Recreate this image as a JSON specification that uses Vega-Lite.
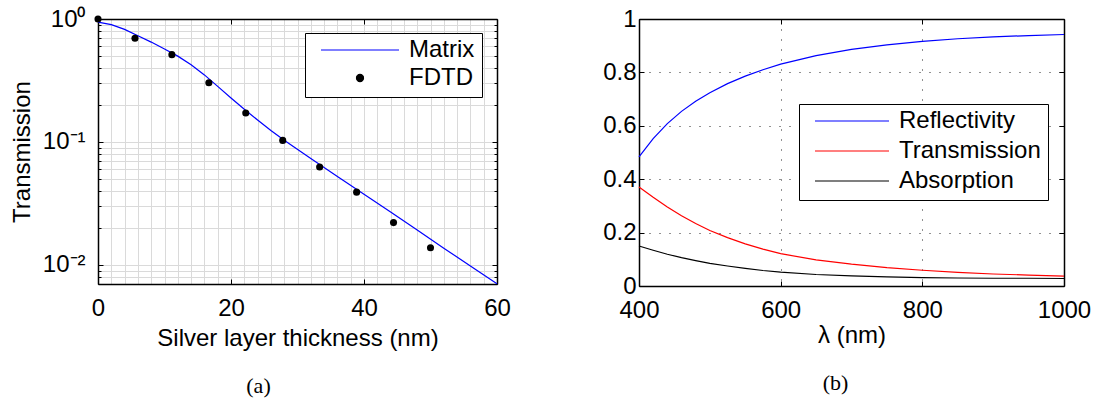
{
  "$schema": "https://vega.github.io/schema/vega-lite/v6.json",
  "padding": {"left": 10, "top": 7, "right": 2, "bottom": 2},
  "background": "white",
  "spacing": 142,
  "bounds": "flush",
  "resolve": {"scale": {"color": "independent"}, "legend": {"color": "independent"}},
  "datasets": {
    "matrix": [
      {"d": 0, "T": 0.942, "series": "Matrix"},
      {"d": 2, "T": 0.899, "series": "Matrix"},
      {"d": 4, "T": 0.824, "series": "Matrix"},
      {"d": 6, "T": 0.731, "series": "Matrix"},
      {"d": 8, "T": 0.649, "series": "Matrix"},
      {"d": 10, "T": 0.571, "series": "Matrix"},
      {"d": 12, "T": 0.499, "series": "Matrix"},
      {"d": 14, "T": 0.425, "series": "Matrix"},
      {"d": 16, "T": 0.351, "series": "Matrix"},
      {"d": 18, "T": 0.283, "series": "Matrix"},
      {"d": 20, "T": 0.228, "series": "Matrix"},
      {"d": 22, "T": 0.1845, "series": "Matrix"},
      {"d": 24, "T": 0.1507, "series": "Matrix"},
      {"d": 26, "T": 0.1242, "series": "Matrix"},
      {"d": 28, "T": 0.1033, "series": "Matrix"},
      {"d": 32, "T": 0.0735, "series": "Matrix"},
      {"d": 36, "T": 0.0525, "series": "Matrix"},
      {"d": 40, "T": 0.0376, "series": "Matrix"},
      {"d": 44, "T": 0.0269, "series": "Matrix"},
      {"d": 48, "T": 0.0192, "series": "Matrix"},
      {"d": 52, "T": 0.0137, "series": "Matrix"},
      {"d": 56, "T": 0.0098, "series": "Matrix"},
      {"d": 60, "T": 0.00702, "series": "Matrix"}
    ],
    "fdtd": [
      {"d": 0, "T": 1.0, "series": "FDTD"},
      {"d": 5.56, "T": 0.697, "series": "FDTD"},
      {"d": 11.11, "T": 0.513, "series": "FDTD"},
      {"d": 16.67, "T": 0.303, "series": "FDTD"},
      {"d": 22.22, "T": 0.172, "series": "FDTD"},
      {"d": 27.78, "T": 0.103, "series": "FDTD"},
      {"d": 33.33, "T": 0.0625, "series": "FDTD"},
      {"d": 38.89, "T": 0.0391, "series": "FDTD"},
      {"d": 44.44, "T": 0.0221, "series": "FDTD"},
      {"d": 50, "T": 0.0138, "series": "FDTD"}
    ],
    "spectra": [
      {"lam": 400, "v": 0.484, "series": "Reflectivity"},
      {"lam": 420, "v": 0.552, "series": "Reflectivity"},
      {"lam": 440, "v": 0.608, "series": "Reflectivity"},
      {"lam": 460, "v": 0.654, "series": "Reflectivity"},
      {"lam": 480, "v": 0.692, "series": "Reflectivity"},
      {"lam": 500, "v": 0.724, "series": "Reflectivity"},
      {"lam": 525, "v": 0.758, "series": "Reflectivity"},
      {"lam": 550, "v": 0.786, "series": "Reflectivity"},
      {"lam": 575, "v": 0.810, "series": "Reflectivity"},
      {"lam": 600, "v": 0.831, "series": "Reflectivity"},
      {"lam": 650, "v": 0.863, "series": "Reflectivity"},
      {"lam": 700, "v": 0.886, "series": "Reflectivity"},
      {"lam": 750, "v": 0.903, "series": "Reflectivity"},
      {"lam": 800, "v": 0.916, "series": "Reflectivity"},
      {"lam": 850, "v": 0.926, "series": "Reflectivity"},
      {"lam": 900, "v": 0.933, "series": "Reflectivity"},
      {"lam": 950, "v": 0.938, "series": "Reflectivity"},
      {"lam": 1000, "v": 0.942, "series": "Reflectivity"},
      {"lam": 400, "v": 0.371, "series": "Transmission"},
      {"lam": 420, "v": 0.332, "series": "Transmission"},
      {"lam": 440, "v": 0.296, "series": "Transmission"},
      {"lam": 460, "v": 0.263, "series": "Transmission"},
      {"lam": 480, "v": 0.234, "series": "Transmission"},
      {"lam": 500, "v": 0.208, "series": "Transmission"},
      {"lam": 525, "v": 0.181, "series": "Transmission"},
      {"lam": 550, "v": 0.158, "series": "Transmission"},
      {"lam": 575, "v": 0.138, "series": "Transmission"},
      {"lam": 600, "v": 0.121, "series": "Transmission"},
      {"lam": 650, "v": 0.098, "series": "Transmission"},
      {"lam": 700, "v": 0.082, "series": "Transmission"},
      {"lam": 750, "v": 0.069, "series": "Transmission"},
      {"lam": 800, "v": 0.059, "series": "Transmission"},
      {"lam": 850, "v": 0.051, "series": "Transmission"},
      {"lam": 900, "v": 0.045, "series": "Transmission"},
      {"lam": 950, "v": 0.041, "series": "Transmission"},
      {"lam": 1000, "v": 0.037, "series": "Transmission"},
      {"lam": 400, "v": 0.150, "series": "Absorption"},
      {"lam": 420, "v": 0.134, "series": "Absorption"},
      {"lam": 440, "v": 0.119, "series": "Absorption"},
      {"lam": 460, "v": 0.106, "series": "Absorption"},
      {"lam": 480, "v": 0.095, "series": "Absorption"},
      {"lam": 500, "v": 0.085, "series": "Absorption"},
      {"lam": 525, "v": 0.075, "series": "Absorption"},
      {"lam": 550, "v": 0.066, "series": "Absorption"},
      {"lam": 575, "v": 0.058, "series": "Absorption"},
      {"lam": 600, "v": 0.052, "series": "Absorption"},
      {"lam": 650, "v": 0.043, "series": "Absorption"},
      {"lam": 700, "v": 0.038, "series": "Absorption"},
      {"lam": 750, "v": 0.034, "series": "Absorption"},
      {"lam": 800, "v": 0.031, "series": "Absorption"},
      {"lam": 850, "v": 0.030, "series": "Absorption"},
      {"lam": 900, "v": 0.029, "series": "Absorption"},
      {"lam": 950, "v": 0.029, "series": "Absorption"},
      {"lam": 1000, "v": 0.028, "series": "Absorption"}
    ]
  },
  "hconcat": [
    {
      "width": 399,
      "height": 265,
      "title": {"text": "(a)", "orient": "bottom", "anchor": "middle", "offset": 26, "dx": -39},
      "layer": [
        {
          "data": {"name": "matrix"},
          "mark": {"type": "line", "strokeWidth": 1.2},
          "encoding": {
            "x": {"field": "d", "type": "quantitative",
              "scale": {"domain": [0, 60], "nice": false, "zero": false},
              "axis": {
                "orient": "bottom",
                "values": [0,2,4,6,8,10,12,14,16,18,20,22,24,26,28,30,32,34,36,38,40,42,44,46,48,50,52,54,56,58,60],
                "labelExpr": "datum.value % 20 === 0 ? datum.label : ''",
                "grid": true, "gridColor": "#dadada", "gridWidth": 1,
                "tickSize": {"condition": {"test": "datum.value % 20 === 0", "value": -5}, "value": 0},
                "labelPadding": 17,
                "title": "Silver layer thickness (nm)", "titlePadding": 1
              }
            },
            "y": {"field": "T", "type": "quantitative",
              "scale": {"type": "log", "domain": [0.007, 1], "nice": false},
              "axis": {
                "orient": "left",
                "values": [0.007,0.008,0.009,0.01,0.02,0.03,0.04,0.05,0.06,0.07,0.08,0.09,0.1,0.2,0.3,0.4,0.5,0.6,0.7,0.8,0.9,1],
                "labelExpr": "datum.value === 1 ? '10⁰' : datum.value === 0.1 ? '10⁻¹' : datum.value === 0.01 ? '10⁻²' : ''",
                "grid": true, "gridColor": "#dadada", "gridWidth": 1,
                "tickSize": {"condition": {"test": "datum.value === 1 || datum.value === 0.1 || datum.value === 0.01", "value": -5}, "value": -3},
                "labelPadding": 18,
                "title": "Transmission", "titlePadding": 8
              }
            },
            "color": {"field": "series", "type": "nominal",
              "scale": {"domain": ["Matrix", "FDTD"], "range": ["#0000ff", "#000000"]},
              "legend": {
                "orient": "none", "legendX": 207, "legendY": 14, "title": null,
                "symbolType": "stroke", "symbolSize": 6084, "rowPadding": 4,
                "encode": {
                  "symbols": {"update": {
                    "shape": {"signal": "datum.value === 'FDTD' ? 'circle' : 'stroke'"},
                    "size": {"signal": "datum.value === 'FDTD' ? 50 : 6084"},
                    "fill": {"signal": "datum.value === 'FDTD' ? 'black' : 'transparent'"},
                    "stroke": {"signal": "datum.value === 'FDTD' ? 'black' : '#0000ff'"},
                    "strokeWidth": {"value": 1.2},
                    "opacity": {"value": 1}
                  }}
                }
              }
            }
          }
        },
        {
          "data": {"name": "fdtd"},
          "mark": {"type": "circle", "size": 50, "opacity": 1},
          "encoding": {
            "x": {"field": "d", "type": "quantitative", "scale": {"domain": [0, 60], "nice": false, "zero": false}, "axis": null},
            "y": {"field": "T", "type": "quantitative", "scale": {"type": "log", "domain": [0.007, 1], "nice": false}, "axis": null},
            "color": {"field": "series", "type": "nominal"}
          }
        },
        {
          "data": {"name": "fdtd"},
          "mark": {"type": "point", "opacity": 0},
          "encoding": {
            "x": {"field": "d", "type": "quantitative", "scale": {"domain": [0, 60], "nice": false, "zero": false},
              "axis": {"orient": "top", "values": [0, 20, 40, 60], "labels": false, "grid": false, "title": null, "tickSize": -5}},
            "y": {"field": "T", "type": "quantitative", "scale": {"type": "log", "domain": [0.007, 1], "nice": false},
              "axis": {"orient": "right",
                "values": [0.007,0.008,0.009,0.01,0.02,0.03,0.04,0.05,0.06,0.07,0.08,0.09,0.1,0.2,0.3,0.4,0.5,0.6,0.7,0.8,0.9,1],
                "labels": false, "grid": false, "title": null,
                "tickSize": {"condition": {"test": "datum.value === 1 || datum.value === 0.1 || datum.value === 0.01", "value": -5}, "value": -3}}}
          }
        }
      ],
      "resolve": {"axis": {"x": "independent", "y": "independent"}}
    },
    {
      "width": 425,
      "height": 267,
      "title": {"text": "(b)", "orient": "bottom", "anchor": "middle", "offset": 26, "dx": -16},
      "layer": [
        {
          "data": {"name": "spectra"},
          "mark": {"type": "line", "strokeWidth": 1.2},
          "encoding": {
            "x": {"field": "lam", "type": "quantitative",
              "scale": {"domain": [400, 1000], "nice": false, "zero": false},
              "axis": {
                "orient": "bottom", "values": [400, 600, 800, 1000],
                "labelExpr": "'' + datum.value",
                "grid": true, "gridColor": "#222222", "gridDash": [1, 9], "gridWidth": 1,
                "tickSize": -5, "labelPadding": 17,
                "title": "λ (nm)", "titlePadding": 1
              }
            },
            "y": {"field": "v", "type": "quantitative",
              "scale": {"domain": [0, 1], "nice": false},
              "axis": {
                "orient": "left", "values": [0, 0.2, 0.4, 0.6, 0.8, 1],
                "labelExpr": "'' + datum.value",
                "grid": true, "gridColor": "#222222", "gridDash": [1, 9], "gridWidth": 1,
                "tickSize": -5, "labelPadding": 8, "title": null
              }
            },
            "color": {"field": "series", "type": "nominal",
              "scale": {"domain": ["Reflectivity", "Transmission", "Absorption"], "range": ["#0000ff", "#ff0000", "#000000"]},
              "legend": {
                "orient": "none", "legendX": 160, "legendY": 85, "title": null,
                "symbolType": "stroke", "symbolSize": 5476, "rowPadding": 6
              }
            }
          }
        },
        {
          "data": {"name": "spectra"},
          "mark": {"type": "point", "opacity": 0},
          "encoding": {
            "x": {"field": "lam", "type": "quantitative", "scale": {"domain": [400, 1000], "nice": false, "zero": false},
              "axis": {"orient": "top", "values": [400, 600, 800, 1000], "labels": false, "grid": false, "title": null, "tickSize": -5}},
            "y": {"field": "v", "type": "quantitative", "scale": {"domain": [0, 1], "nice": false},
              "axis": {"orient": "right", "values": [0, 0.2, 0.4, 0.6, 0.8, 1], "labels": false, "grid": false, "title": null, "tickSize": -5}}
          }
        }
      ],
      "resolve": {"axis": {"x": "independent", "y": "independent"}}
    }
  ],
  "config": {
    "font": "Liberation Sans",
    "view": {"stroke": null},
    "axis": {
      "labelFont": "Liberation Sans", "labelFontSize": 24, "labelColor": "black",
      "titleFont": "Liberation Sans", "titleFontSize": 24, "titleFontWeight": "normal", "titleColor": "black",
      "domainColor": "black", "domainWidth": 1.5, "tickColor": "black", "tickWidth": 1,
      "labelFlush": false, "labelOverlap": false, "zindex": 1
    },
    "legend": {
      "labelFont": "Liberation Sans", "labelFontSize": 24, "labelColor": "black", "labelLimit": 400,
      "strokeColor": "black", "fillColor": "white", "padding": 7,
      "clipHeight": 20, "symbolOffset": 8, "labelOffset": 9,
      "symbolStrokeWidth": 1.2
    },
    "title": {"font": "Liberation Serif", "fontSize": 22, "fontWeight": "normal", "color": "black"}
  }
}
